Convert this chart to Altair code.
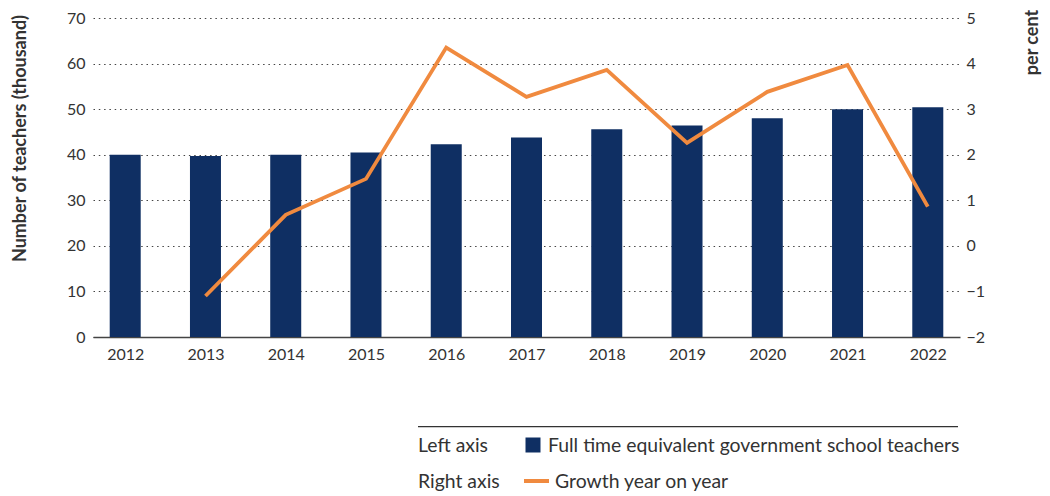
import altair as alt
import pandas as pd

years = [2012, 2013, 2014, 2015, 2016, 2017, 2018, 2019, 2020, 2021, 2022]
teachers = [40.0, 39.7, 40.0, 40.5, 42.3, 43.8, 45.6, 46.4, 48.0, 50.0, 50.4]
growth = [None, -1.10, 0.68, 1.47, 4.35, 3.27, 3.86, 2.26, 3.38, 3.97, 0.86]

left_ticks = [0, 10, 20, 30, 40, 50, 60, 70]
right_ticks = [-2, -1, 0, 1, 2, 3, 4, 5]

bar_label = "Full time equivalent government school teachers"
line_label = "Growth year on year"
left_axis_label = "Left axis"
right_axis_label = "Right axis"
left_title = "Number of teachers (thousand)"
right_title = "per cent"

NAVY = "#0f2f63"
ORANGE = "#f08a3f"
FONT = "Lato"
TXT = "#333333"

df = pd.DataFrame({"year": years, "teachers": teachers, "growth": growth})

xscale = alt.Scale(domain=[2011.661, 2022.339], nice=False, zero=False)
xaxis = alt.Axis(values=years, format="d", title=None, grid=False, ticks=False,
                 domain=True, domainColor="#444444", domainWidth=1.5,
                 labelPadding=9, labelFontSize=16, labelFont=FONT, labelColor=TXT,
                 labelAngle=0)

base = alt.Chart(df)

bars = base.mark_bar(color=NAVY, size=31).encode(
    x=alt.X("year:Q", scale=xscale, axis=xaxis),
    y=alt.Y("teachers:Q", scale=alt.Scale(domain=[0, 70], nice=False),
            axis=alt.Axis(values=left_ticks, orient="left", title=left_title,
                          grid=True, gridDash=[1.5, 3.8], gridColor="#444444", gridWidth=1,
                          domain=False, ticks=False, labelPadding=8,
                          labelFontSize=16, labelFont=FONT, labelColor=TXT,
                          titleFont=FONT, titleFontSize=18, titleFontWeight="bold",
                          titleColor=TXT, titleAngle=270, titleX=-73, titleY=120,
                          titleAlign="center", titleBaseline="middle")),
)

line = base.mark_line(color=ORANGE, strokeWidth=3.8).encode(
    x=alt.X("year:Q", scale=xscale, axis=xaxis),
    y=alt.Y("growth:Q", scale=alt.Scale(domain=[-2, 5], nice=False, zero=False),
            axis=alt.Axis(values=right_ticks, orient="right", title=right_title,
                          grid=False, domain=False, ticks=False, labelPadding=6,
                          labelFontSize=16, labelFont=FONT, labelColor=TXT,
                          titleFont=FONT, titleFontSize=18, titleFontWeight="bold",
                          titleColor=TXT, titleAngle=270, titleX=72, titleY=24,
                          titleAlign="center", titleBaseline="middle")),
)

one = pd.DataFrame({"k": [0]})

rule = alt.Chart(one).mark_rule(color="#333333", strokeWidth=1.2).encode(
    x=alt.value(325), x2=alt.value(865), y=alt.value(408.7))

def txt(label, x, y):
    return alt.Chart(one).mark_text(align="left", baseline="alphabetic", font=FONT,
                                    fontSize=19.4, color=TXT).encode(
        x=alt.value(x), y=alt.value(y), text=alt.value(label))

sq = alt.Chart(one).mark_square(color=NAVY, size=225, opacity=1).encode(
    x=alt.value(440), y=alt.value(427))
seg = alt.Chart(one).mark_rule(color=ORANGE, strokeWidth=4).encode(
    x=alt.value(431), x2=alt.value(456), y=alt.value(463))

chart = alt.layer(
    bars, line, rule,
    txt(left_axis_label, 325, 434), sq, txt(bar_label, 455, 434),
    txt(right_axis_label, 325, 470), seg, txt(line_label, 462, 470),
).resolve_scale(y="independent").properties(
    width=867, height=319,
    autosize=alt.AutoSizeParams(type="none"),
    padding={"left": 85, "top": 10, "right": 82, "bottom": 157},
).configure_view(stroke=None)

chart.save("out.html", embed_options={"renderer": "svg", "actions": False})
